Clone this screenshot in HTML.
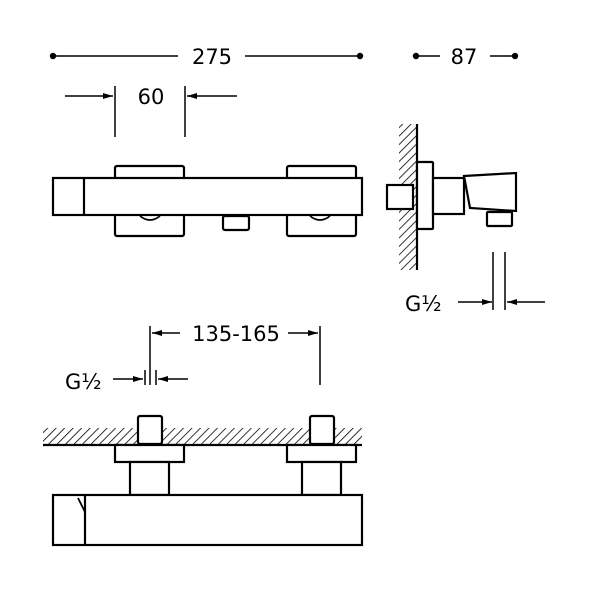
<!DOCTYPE html>
<html><head><style>html,body{margin:0;padding:0;background:#fff}svg{display:block}</style></head><body>
<svg width="600" height="600" viewBox="0 0 600 600" xmlns="http://www.w3.org/2000/svg">
<defs>
<pattern id="h" width="6" height="6" patternUnits="userSpaceOnUse" patternTransform="rotate(45)">
<line x1="0" y1="0" x2="0" y2="6" stroke="#000" stroke-width="1.6"/>
</pattern>
<marker id="a" viewBox="0 0 10 6" refX="10" refY="3" markerWidth="10" markerHeight="6" markerUnits="userSpaceOnUse" orient="auto"><path d="M0,0 L10,3 L0,6 z" fill="#000"/></marker>
</defs>
<g font-family="'DejaVu Sans','Liberation Sans',sans-serif" font-size="21" fill="#000">
<!-- top dims -->
<g stroke="#000" stroke-width="1.5">
<line x1="53" y1="56" x2="178" y2="56"/><line x1="245" y1="56" x2="360" y2="56"/>
<line x1="416" y1="56" x2="440" y2="56"/><line x1="490" y1="56" x2="515" y2="56"/>
<line x1="65" y1="96" x2="113" y2="96" marker-end="url(#a)"/>
<line x1="237" y1="96" x2="187" y2="96" marker-end="url(#a)"/>
<line x1="115" y1="86" x2="115" y2="137"/><line x1="185" y1="86" x2="185" y2="137"/>
</g>
<circle cx="53" cy="56" r="3.2"/><circle cx="360" cy="56" r="3.2"/><circle cx="416" cy="56" r="3.2"/><circle cx="515" cy="56" r="3.2"/>
<text x="212" y="64" text-anchor="middle">275</text>
<text x="464" y="64" text-anchor="middle">87</text>
<text x="151" y="104" text-anchor="middle">60</text>

<!-- front view -->
<g fill="#fff" stroke="#000" stroke-width="2.2">
<rect x="115" y="166" width="69" height="70" rx="2"/>
<rect x="287" y="166" width="69" height="70" rx="2"/>
<rect x="223" y="216" width="26" height="14" rx="2"/>
<rect x="53" y="178" width="309" height="37"/>
<line x1="84" y1="178" x2="84" y2="215"/>
<path d="M140,216 Q150,224 160,216" fill="none" stroke-width="1.6"/>
<path d="M310,216 Q320,224 330,216" fill="none" stroke-width="1.6"/>
</g>

<!-- side view -->
<rect x="399" y="124" width="18" height="146" fill="url(#h)"/>
<g fill="#fff" stroke="#000" stroke-width="2.2">
<line x1="417" y1="124" x2="417" y2="270"/>
<rect x="387" y="185" width="26" height="24"/>
<rect x="417" y="162" width="16" height="67" rx="1"/>
<rect x="433" y="178" width="31" height="36"/>
<path d="M464,176 L516,173 L516,211 L470,208 Z"/>
<rect x="487" y="212" width="25" height="14" rx="1"/>
</g>
<g stroke="#000" stroke-width="1.5">
<line x1="493" y1="252" x2="493" y2="310"/><line x1="505" y1="252" x2="505" y2="310"/>
<line x1="458" y1="302" x2="492" y2="302" marker-end="url(#a)"/>
<line x1="545" y1="302" x2="507" y2="302" marker-end="url(#a)"/>
</g>
<text x="405" y="311">G½</text>

<!-- middle dims -->
<g stroke="#000" stroke-width="1.5">
<line x1="150" y1="326" x2="150" y2="385"/><line x1="320" y1="326" x2="320" y2="385"/>
<line x1="180" y1="333" x2="152" y2="333" marker-end="url(#a)"/>
<line x1="288" y1="333" x2="318" y2="333" marker-end="url(#a)"/>
<line x1="145" y1="370" x2="145" y2="385"/><line x1="156" y1="370" x2="156" y2="385"/>
<line x1="113" y1="379" x2="143" y2="379" marker-end="url(#a)"/>
<line x1="188" y1="379" x2="158" y2="379" marker-end="url(#a)"/>
</g>
<text x="236" y="341" text-anchor="middle">135-165</text>
<text x="65" y="389">G½</text>

<!-- bottom view -->
<rect x="43" y="428" width="319" height="17" fill="url(#h)"/>
<g fill="#fff" stroke="#000" stroke-width="2.2">
<line x1="43" y1="445" x2="362" y2="445"/>
<rect x="138" y="416" width="24" height="28" rx="2"/>
<rect x="310" y="416" width="24" height="28" rx="2"/>
<rect x="115" y="445" width="69" height="17"/>
<rect x="287" y="445" width="69" height="17"/>
<rect x="130" y="462" width="39" height="33"/>
<rect x="302" y="462" width="39" height="33"/>
<rect x="53" y="495" width="309" height="50"/>
<line x1="85" y1="495" x2="85" y2="545"/>
<path d="M78,498 L85,512" fill="none" stroke-width="1.8"/>
</g>
</g>
</svg>
</body></html>
